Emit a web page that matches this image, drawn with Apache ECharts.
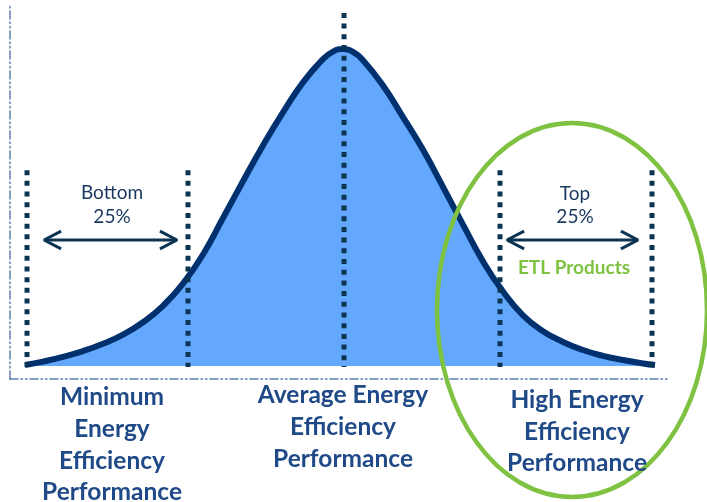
<!DOCTYPE html>
<html>
<head>
<meta charset="utf-8">
<script src="https://cdn.jsdelivr.net/npm/echarts@6/dist/echarts.min.js"></script>
<style>
html,body{margin:0;padding:0;background:#fff;}
#chart{width:707px;height:502px;}
</style>
</head>
<body>
<div id="chart"></div>
<script>
// Curve (efficiency score vs relative density)
const xScore = [2.283, 5.023, 8.067, 11.111, 14.155, 17.199, 20.244, 23.288, 26.332, 29.376, 32.420, 35.464, 38.508, 41.553, 44.597, 47.641, 49.163, 50.685,
                52.207, 53.729, 56.773, 59.817, 62.861, 65.906, 68.950, 71.994, 75.038, 78.082, 81.126, 84.170, 87.215, 90.259, 93.303, 96.347, 98.174];
const yDensity = [0.3, 1.4, 2.9, 4.7, 7.0, 9.9, 13.8, 19.0, 26.0, 35.2, 46.7, 58.3, 69.6, 80.0, 89.5, 96.8, 99.2, 100,
                  99.1, 96.5, 88.5, 78.5, 68.2, 56.5, 44.6, 33.0, 23.5, 16.0, 11.0, 7.6, 5.05, 3.2, 1.9, 0.8, 0.3];

// Dotted dividers
const dividerX   = [2.59, 27.09, 50.84, 74.58, 97.72];
const dividerTop = [61.8, 61.8, 111.4, 61.8, 61.8];
const dividerBottom = -0.3;

// Arrows (quartile spans)
const arrowY = 39.75;
const arrowSpans = [[5.18, 25.42], [75.65, 95.59]];

const navy = '#00306e';
const dotColor = '#0b3452';

const series = [];
series.push({
  type: 'line', data: xScore.map((x, i) => [x, yDensity[i]]),
  smooth: 0.5, symbol: 'none', z: 2,
  lineStyle: {color: navy, width: 6, cap: 'butt'},
  areaStyle: {color: '#64a8fe', opacity: 1}
});
dividerX.forEach((x, i) => {
  series.push({
    type: 'line', data: [[x, dividerTop[i]], [x, dividerBottom]],
    symbol: 'none', z: 5, silent: true,
    lineStyle: {color: dotColor, width: 5, type: [5, 5.7], cap: 'butt'}
  });
});
const headLen = 2.6, headHalf = 2.8;
arrowSpans.forEach(([a, b]) => {
  const ls = {color: dotColor, width: 3};
  series.push({type: 'line', data: [[a, arrowY], [b, arrowY]], symbol: 'none', z: 6, lineStyle: ls});
  series.push({type: 'line', data: [[a + headLen, arrowY + headHalf], [a, arrowY], [a + headLen, arrowY - headHalf]], symbol: 'none', z: 6, lineStyle: ls});
  series.push({type: 'line', data: [[b - headLen, arrowY + headHalf], [b, arrowY], [b - headLen, arrowY - headHalf]], symbol: 'none', z: 6, lineStyle: ls});
});

const axisStyle = {color: '#5a7fae', width: 1.5, type: [8, 3, 1.5, 3, 1.5, 3]};
const labelBlue = '#1f4a87';
const boldFont = 'bold 24.5px Lato, "Open Sans", sans-serif';
const textFont = '19px Lato, "Open Sans", sans-serif';

function t(x, y, text, font, fill) {
  return {type: 'text', x: x, y: y, z: 20,
    style: {text: text, font: font, fill: fill, align: 'center', verticalAlign: 'middle'}};
}

const chart = echarts.init(document.getElementById('chart'));
chart.setOption({
  animation: false,
  grid: {left: 10, right: 40, top: 5, bottom: 123},
  xAxis: {type: 'value', min: 0, max: 100,
    axisLine: {show: true, onZero: false, lineStyle: axisStyle},
    axisTick: {show: false}, axisLabel: {show: false}, splitLine: {show: false}},
  yAxis: {type: 'value', min: -4.1, max: 113.9,
    axisLine: {show: true, onZero: false, lineStyle: axisStyle},
    axisTick: {show: false}, axisLabel: {show: false}, splitLine: {show: false}},
  series: series,
  graphic: [
    {type: 'ellipse', z: 15, shape: {cx: 572, cy: 310, rx: 135, ry: 187},
     style: {fill: 'none', stroke: '#7fc241', lineWidth: 4.5}},
    t(112, 193, 'Bottom', textFont, '#17375e'),
    t(112, 217, '25%', textFont, '#17375e'),
    t(575, 194, 'Top', textFont, '#17375e'),
    t(575, 217, '25%', textFont, '#17375e'),
    t(574, 268, 'ETL Products', 'bold 19px Lato, "Open Sans", sans-serif', '#7fc241'),
    t(112, 397, 'Minimum', boldFont, labelBlue),
    t(112, 429, 'Energy', boldFont, labelBlue),
    t(112, 461, 'Efficiency', boldFont, labelBlue),
    t(112, 492, 'Performance', boldFont, labelBlue),
    t(343, 395, 'Average Energy', boldFont, labelBlue),
    t(343, 427, 'Efficiency', boldFont, labelBlue),
    t(343, 459, 'Performance', boldFont, labelBlue),
    t(577, 400, 'High Energy', boldFont, labelBlue),
    t(577, 432, 'Efficiency', boldFont, labelBlue),
    t(577, 463, 'Performance', boldFont, labelBlue)
  ]
});
</script>
</body>
</html>
